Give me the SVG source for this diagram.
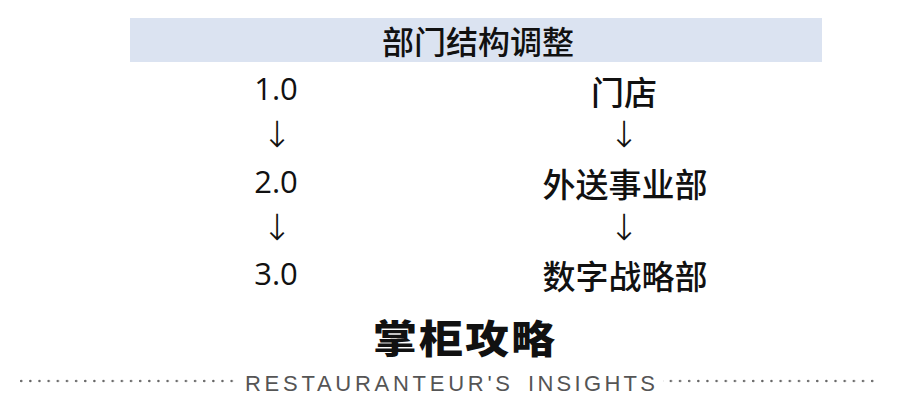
<svg xmlns="http://www.w3.org/2000/svg" width="900" height="407" viewBox="0 0 900 407">
<style>
.t{font-family:"Noto Sans CJK SC","Noto Sans",sans-serif;fill:#111;text-anchor:middle}
.n{font-family:"Open Sans","Noto Sans",sans-serif;fill:#111;text-anchor:middle;font-size:31px}
.c{font-size:33px;font-weight:500}
.a{font-family:"DejaVu Sans",sans-serif;font-size:36px;fill:#111;text-anchor:middle;font-weight:300}
.dot{fill:#666}
</style>
<defs>
<pattern id="dots" x="20" y="378" width="9.15" height="6" patternUnits="userSpaceOnUse">
<circle cx="1.2" cy="3" r="1.25" class="dot"/>
</pattern>
</defs>
<rect width="900" height="407" fill="#fff"/>
<g id="header">
<rect x="130" y="18" width="692" height="44" fill="#dbe3f1"/>
<text class="t" x="478" y="54" font-size="32" font-weight="500">部门结构调整</text>
</g>
<g id="v1"><text class="n" x="276" y="100">1.0</text></g>
<g id="v2"><text class="n" x="276" y="193">2.0</text></g>
<g id="v3"><text class="n" x="276" y="285">3.0</text></g>
<g id="d1"><text class="t c" x="624" y="105">门店</text></g>
<g id="d2"><text class="t c" x="625" y="197">外送事业部</text></g>
<g id="d3"><text class="t c" x="625" y="289">数字战略部</text></g>
<g id="connectors">
<text class="a" x="277" y="147">↓</text>
<text class="a" x="277" y="240">↓</text>
<text class="a" x="624" y="147" font-weight="bold">↓</text>
<text class="a" x="624" y="240" font-weight="bold">↓</text>
</g>
<g id="footer">
<text class="t" x="465" y="353" font-size="44" font-weight="900" letter-spacing="2" transform="translate(0,353) scale(1,0.88) translate(0,-353)">掌柜攻略</text>
<rect x="19" y="378" width="215" height="6" fill="url(#dots)"/>
<rect x="663" y="378" width="217" height="6" fill="url(#dots)"/>
<text y="391" font-family="Liberation Sans, sans-serif" font-size="22" fill="#555"><tspan x="245" textLength="265" lengthAdjust="spacing">RESTAURANTEUR'S</tspan><tspan x="528" textLength="127" lengthAdjust="spacing">INSIGHTS</tspan></text>
</g>
</svg>
